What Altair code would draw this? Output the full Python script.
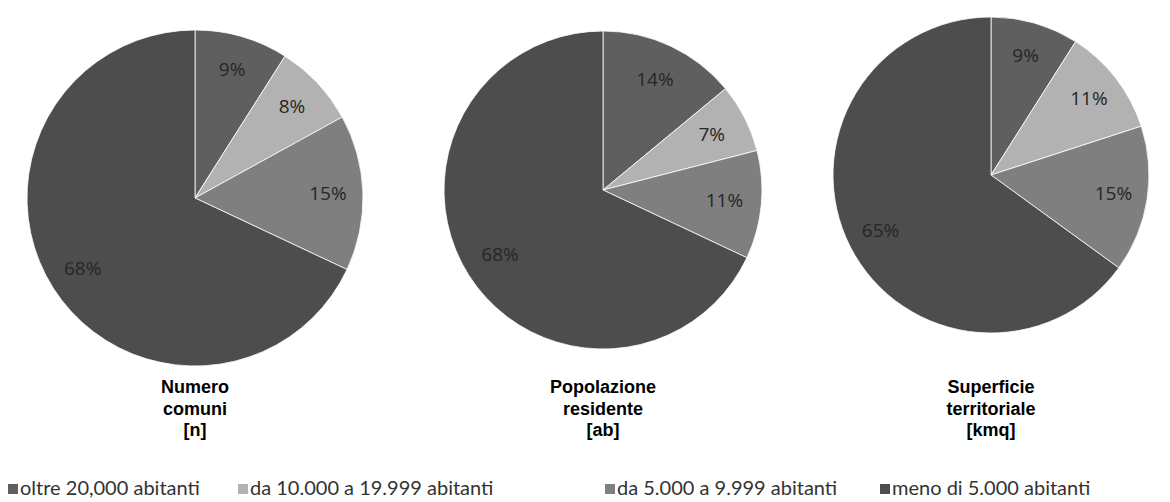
import altair as alt
import pandas as pd

categories = ["oltre 20,000 abitanti", "da 10.000 a 19.999 abitanti",
              "da 5.000 a 9.999 abitanti", "meno di 5.000 abitanti"]
colors = ["#5f5f5f", "#b2b2b2", "#7f7f7f", "#4d4d4d"]

numero_comuni = [9, 8, 15, 68]
popolazione_residente = [14, 7, 11, 68]
superficie_territoriale = [9, 11, 15, 65]

titles = [["Numero", "comuni", "[n]"],
          ["Popolazione", "residente", "[ab]"],
          ["Superficie", "territoriale", "[kmq]"]]

color_scale = alt.Scale(domain=categories, range=colors)

# layout (style) settings per pie
pie_styles = [
    dict(width=374, outer=168, label_r=133, yoff=5),
    dict(width=442, outer=159, label_r=122, yoff=-3),
    dict(width=334, outer=158, label_r=124, yoff=-18),
]
PIE_H = 370


def make_pie(values, title, st):
    df = pd.DataFrame({"fascia": categories, "val": values, "idx": list(range(len(categories)))})
    base = alt.Chart(df).encode(
        theta=alt.Theta("val:Q", stack=True),
        order=alt.Order("idx:Q"),
    )
    arc = base.mark_arc(outerRadius=st["outer"], stroke="#ffffff", strokeWidth=0.8,
                        yOffset=st["yoff"]).encode(
        color=alt.Color("fascia:N", scale=color_scale, legend=None)
    )
    txt = base.transform_calculate(label="datum.val + '%'").mark_text(
        radius=st["label_r"], font="Open Sans", fontSize=19, color="#262626",
        yOffset=st["yoff"]
    ).encode(text="label:N")
    return alt.layer(arc, txt).properties(
        width=st["width"], height=PIE_H,
        title=alt.TitleParams(text=title, orient="bottom", anchor="middle",
                              font="Liberation Sans", fontSize=18, fontWeight="bold",
                              color="#000000", lineHeight=21.5, offset=1, baseline="top"),
    )


pies = alt.hconcat(
    make_pie(numero_comuni, titles[0], pie_styles[0]),
    make_pie(popolazione_residente, titles[1], pie_styles[1]),
    make_pie(superficie_territoriale, titles[2], pie_styles[2]),
    spacing=0,
)

legend_widths = [230, 367, 275, 278]


def legend_item(cat, w):
    df = pd.DataFrame({"fascia": [cat]})
    sq = alt.Chart(df).mark_point(shape="square", size=100, filled=True, opacity=1).encode(
        x=alt.value(5), y=alt.value(10),
        color=alt.Color("fascia:N", scale=color_scale, legend=None),
    )
    tx = alt.Chart(df).mark_text(align="left", baseline="middle", font="Lato",
                                 fontSize=20, color="#333333").encode(
        x=alt.value(12), y=alt.value(10), text="fascia:N")
    return alt.layer(sq, tx).properties(width=w, height=20)


legend = alt.hconcat(*[legend_item(c, w) for c, w in zip(categories, legend_widths)], spacing=0)

chart = alt.vconcat(pies, legend, spacing=39).properties(
    padding={"left": 0, "top": 0, "right": 0, "bottom": 0}
).configure_view(stroke=None).configure_concat(spacing=0)

chart.save("out.html", embed_options={"renderer": "svg", "actions": False})
